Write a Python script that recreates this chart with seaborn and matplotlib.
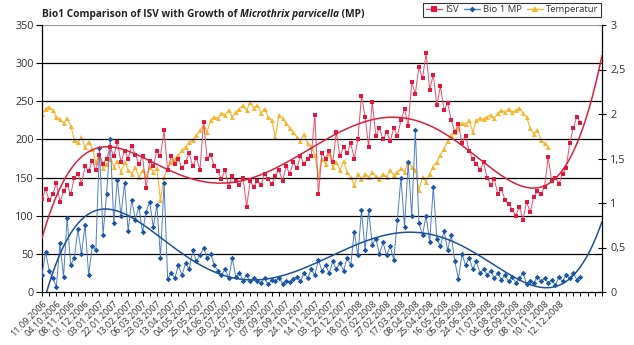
import numpy as np
import matplotlib
matplotlib.use("Agg")
import matplotlib.pyplot as plt
import seaborn as sns
from matplotlib.lines import Line2D

# Sampling dates shown on the category axis (one label every fourth sample)
tick_dates = [
    "11.09.2006", "04.10.2006", "08.11.2006", "01.12.2006", "03.01.2007",
    "22.01.2007", "13.02.2007", "06.03.2007", "23.03.2007", "13.04.2007",
    "04.05.2007", "25.05.2007", "14.06.2007", "03.07.2007", "24.07.2007",
    "21.08.2007", "07.09.2007", "26.09.2007", "24.10.2007", "14.11.2007",
    "03.12.2007", "20.12.2007", "18.01.2008", "07.02.2008", "27.02.2008",
    "17.03.2008", "08.04.2008", "25.04.2008", "16.05.2008", "05.06.2008",
    "24.06.2008", "11.07.2008", "04.08.2008", "05.09.2008", "08.10.2008",
    "10.11.2008", "12.12.2008",
]

# Sludge volume index (ml/g), left axis
isv = [
    122, 135, 120, 128, 143, 118, 132, 140, 128, 150,
    155, 142, 165, 158, 172, 160, 180, 168, 175, 190,
    178, 197, 170, 185, 175, 192, 180, 168, 178, 136,
    172, 165, 185, 178, 212, 160, 178, 168, 175, 162,
    170, 182, 165, 176, 160, 223, 175, 180, 165, 158,
    148, 160, 138, 152, 145, 140, 150, 112, 145, 138,
    146, 140, 155, 148, 142, 152, 160, 145, 165, 155,
    170, 162, 178, 168, 175, 178, 232, 128, 182, 175,
    185, 170, 210, 178, 190, 182, 195, 175, 200, 257,
    230, 190, 249, 205, 215, 200, 210, 198, 215, 205,
    225, 240, 218, 275, 260, 295, 280, 313, 265, 285,
    245, 270, 238, 248, 225, 210, 220, 195, 205, 185,
    175, 168, 160, 170, 150, 140, 148, 128, 135, 120,
    115, 108, 100, 112, 95, 118, 105, 125, 132, 128,
    138, 177, 145, 150, 142, 155, 162, 195, 215, 230, 222,
]

# Microthrix parvicella growth in Bio 1, left axis
bio1_mp = [
    22, 53, 28, 18, 7, 64, 20, 97, 35, 45,
    82, 50, 88, 22, 60, 55, 189, 75, 129, 200,
    90, 147, 100, 143, 80, 121, 95, 112, 78, 105,
    118, 85, 114, 45, 143, 17, 25, 18, 35, 22,
    38, 30, 55, 40, 48, 58, 45, 50, 35, 28,
    22, 30, 18, 44, 20, 25, 15, 22, 14, 18,
    15, 12, 18, 10, 16, 14, 19, 11, 15, 13,
    17, 20, 14, 25, 18, 30, 22, 42, 28, 35,
    25, 40, 30, 38, 28, 45, 35, 79, 48, 107,
    55, 107, 62, 70, 50, 65, 48, 60, 42, 95,
    150, 85, 170, 100, 212, 90, 75, 100, 65, 138,
    70, 60, 80, 55, 75, 40, 17, 50, 35, 45,
    30, 40, 25, 30, 22, 28, 18, 25, 16, 22,
    14, 20, 12, 18, 25, 10, 15, 12, 20, 14,
    18, 12, 16, 9, 20, 14, 22, 18, 25, 16, 20,
]

# Temperature, right axis
temperatur = [
    2.00, 2.06, 2.08, 2.04, 1.97, 1.94, 1.90, 1.95, 1.87, 1.71,
    1.68, 1.74, 1.63, 1.69, 1.61, 1.46, 1.53, 1.39, 1.44, 1.50,
    1.41, 1.47, 1.35, 1.46, 1.37, 1.33, 1.40, 1.29, 1.37, 1.30,
    1.41, 1.35, 1.39, 1.03, 1.29, 1.39, 1.46, 1.50, 1.54, 1.59,
    1.63, 1.68, 1.71, 1.76, 1.82, 1.87, 1.80, 1.93, 1.97, 1.95,
    2.01, 1.99, 2.04, 1.97, 2.02, 2.06, 2.10, 2.04, 2.13, 2.07,
    2.10, 2.01, 2.06, 1.97, 1.93, 1.74, 1.99, 1.95, 1.90, 1.84,
    1.80, 1.74, 1.70, 1.77, 1.67, 1.63, 1.54, 1.29, 1.50, 1.44,
    1.56, 1.41, 1.46, 1.37, 1.47, 1.35, 1.29, 1.20, 1.33, 1.27,
    1.33, 1.29, 1.35, 1.30, 1.27, 1.33, 1.29, 1.37, 1.31, 1.35,
    1.39, 1.35, 1.46, 1.41, 1.37, 1.15, 1.29, 1.24, 1.33, 1.41,
    1.46, 1.54, 1.61, 1.70, 1.76, 1.80, 1.84, 1.90, 1.89, 1.93,
    1.80, 1.93, 1.95, 1.94, 1.97, 1.99, 1.95, 2.01, 2.04, 2.02,
    2.06, 2.02, 2.04, 2.07, 2.01, 1.97, 1.84, 1.78, 1.82, 1.71,
    1.67, 1.63,
]

RED = "#E3173E"
RED_LINE = "#EA4F69"
BLUE = "#1A55A6"
BLUE_LINE = "#4C7FC4"
YELLOW = "#F7B42C"
RED_TREND = "#D8213F"
BLUE_TREND = "#1D5199"
X_END = 156  # axis carries empty categories past the last sample

sns.set_theme(style="white")
plt.rcParams["font.family"] = ["Open Sans", "DejaVu Sans"]

fig = plt.figure(figsize=(6.34, 3.45), dpi=100)
ax = fig.add_axes([42 / 634, 53 / 345, 560 / 634, 267 / 345])
ax2 = ax.twinx()
ax.set_zorder(ax2.get_zorder() + 1)
ax.patch.set_visible(False)

# horizontal grid of the primary axis
for v in range(50, 301, 50):
    ax.axhline(v, color="black", lw=0.9, zorder=0)
ax.axhline(350, color="#9a9a9a", lw=0.9, zorder=0)

idx = np.arange(len(isv))
idx_t = np.arange(len(temperatur))

sns.lineplot(x=idx_t, y=temperatur, ax=ax2, color=YELLOW, lw=0.8,
             marker="^", markersize=3.6, markeredgewidth=0, zorder=2)
sns.lineplot(x=idx, y=bio1_mp, ax=ax, color=BLUE_LINE, lw=0.7,
             marker="D", markersize=2.8, markeredgewidth=0,
             markerfacecolor=BLUE, zorder=3)
sns.lineplot(x=idx, y=isv, ax=ax, color=RED_LINE, lw=0.7,
             marker="s", markersize=3.4, markeredgewidth=0,
             markerfacecolor=RED, zorder=4)


def poly_trend(values, x_end, degree=5):
    x = np.arange(len(values))
    fit = np.polynomial.Polynomial.fit(x, values, degree)
    xs = np.linspace(0, x_end, 500)
    return xs, fit(xs)


xs, ys = poly_trend(isv, X_END)
ax.plot(xs, ys, color=RED_TREND, lw=1.1, zorder=5)
xs, ys = poly_trend(bio1_mp, X_END)
ax.plot(xs, ys, color=BLUE_TREND, lw=1.1, zorder=5)

# primary axis
ax.set_xlim(0, X_END)
ax.set_ylim(0, 350)
ax.set_yticks(range(0, 351, 50))
ax.tick_params(axis="y", which="major", left=True, direction="out", length=4,
               width=0.8, color="black", labelsize=7.8, labelcolor="#333333", pad=2)
ax.set_xticks(np.arange(0, 145, 4))
ax.set_xticklabels(tick_dates, rotation=45, ha="right", va="top",
                   rotation_mode="anchor", fontsize=6.6, color="#333333")
minor = list(np.arange(2, 143, 4)) + list(np.arange(146, X_END + 1, 2))
ax.set_xticks(minor, minor=True)
ax.tick_params(axis="x", which="both", bottom=True, direction="out", length=3,
               width=0.7, color="black", pad=2)
for side in ("top", "right"):
    ax.spines[side].set_visible(False)
for side in ("left", "bottom"):
    ax.spines[side].set_color("black")
    ax.spines[side].set_linewidth(0.9)
ax.set_xlabel("")
ax.set_ylabel("")

# secondary axis
ax2.set_ylim(0, 3)
r_ticks = [0, 0.5, 1, 1.5, 2, 2.5, 3]
ax2.set_yticks(r_ticks)
ax2.set_yticklabels([f"{t:g}".replace(".", ",") for t in r_ticks])
ax2.tick_params(axis="y", right=True, direction="inout", length=6, width=0.8,
                color="black", labelsize=7.8, labelcolor="#333333", pad=3)
for side in ("top", "left", "bottom"):
    ax2.spines[side].set_visible(False)
ax2.spines["right"].set_color("black")
ax2.spines["right"].set_linewidth(0.9)
ax2.set_xlabel("")
ax2.set_ylabel("")

# title with italic species name
renderer = fig.canvas.get_renderer()
parts = [("Bio1 Comparison of ISV with Growth of ", "normal"),
         ("Microthrix parvicella", "italic"),
         (" (MP)", "normal")]
x0 = 42 / 634
for text, style in parts:
    t = fig.text(x0, 1 - 14 / 345, text, fontsize=7.3, fontweight="bold",
                 style=style, color="#222222", va="center", ha="left")
    bb = t.get_window_extent(renderer=renderer)
    x0 = bb.x1 / fig.bbox.width

handles = [
    Line2D([], [], color=RED_LINE, lw=1, marker="s", markersize=4,
           markeredgewidth=0, markerfacecolor=RED),
    Line2D([], [], color=BLUE_LINE, lw=1, marker="D", markersize=3,
           markeredgewidth=0, markerfacecolor=BLUE),
    Line2D([], [], color=YELLOW, lw=1, marker="^", markersize=4, markeredgewidth=0),
]
leg = fig.legend(handles, ["ISV", "Bio 1 MP", "Temperatur"], ncol=3,
                 loc="upper right", bbox_to_anchor=(601 / 634, 1 - 3 / 345),
                 fontsize=6.8, frameon=True, fancybox=False, handlelength=1.7,
                 handletextpad=0.3, columnspacing=0.6, borderpad=0.25,
                 borderaxespad=0)
leg.get_frame().set_edgecolor("black")
leg.get_frame().set_linewidth(0.8)
for txt in leg.get_texts():
    txt.set_color("#333333")

fig.savefig("out.png", dpi=100)
